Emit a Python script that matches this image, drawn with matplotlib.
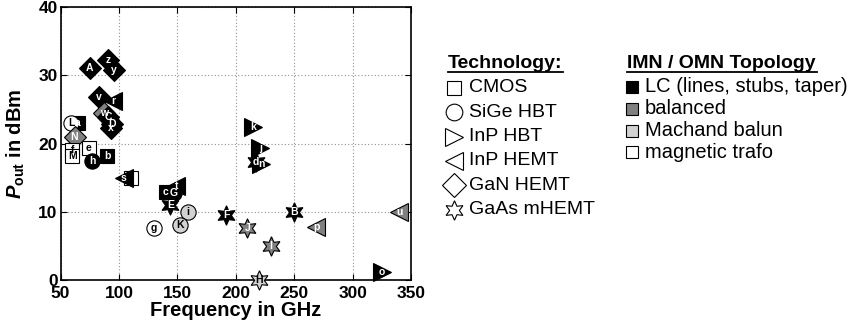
import numpy as np
import matplotlib
matplotlib.use("Agg")
import matplotlib.pyplot as plt
from matplotlib.lines import Line2D

plt.rcParams['font.family'] = ['Liberation Sans', 'DejaVu Sans']
plt.rcParams['mathtext.fontset'] = 'custom'
plt.rcParams['mathtext.rm'] = 'Liberation Sans:bold'
plt.rcParams['mathtext.it'] = 'Liberation Sans:italic:bold'

# data
labels = ['A', 'z', 'y', 'v', 'r', 'w', 'C', 'D', 'x', 'a', 'L', 'N', 'f', 'M', 'e',
          'h', 'b', 'q', 's', 't', 'c', 'G', 'E', 'i', 'K', 'g', 'k', 'j', 'd', 'n',
          'F', 'B', 'J', 'I', 'H', 'p', 'u', 'o']
freq = [75, 91, 96, 83, 95, 87, 91, 94, 93, 65, 59, 62, 60, 60, 74,
        77, 90, 110, 104, 149, 140, 147, 144, 159, 152, 130, 215, 221, 217, 222,
        192, 250, 210, 230, 220, 269, 340, 325]
pout = [31.0, 32.2, 30.8, 26.8, 26.3, 24.4, 23.9, 22.9, 22.2, 23.0, 23.0, 21.0, 19.0, 18.1, 19.3,
        17.4, 18.2, 14.9, 14.9, 13.7, 12.9, 12.8, 11.0, 9.9, 8.0, 7.6, 22.4, 19.3, 17.3, 17.0,
        9.5, 9.9, 7.6, 5.0, 0.0, 7.8, 9.9, 1.1]
tech = ['GaN', 'GaN', 'GaN', 'GaN', 'InPHEMT', 'GaN', 'GaN', 'GaN', 'GaN', 'CMOS', 'SiGe', 'GaN', 'CMOS', 'CMOS', 'CMOS',
        'SiGe', 'CMOS', 'CMOS', 'InPHEMT', 'InPHEMT', 'CMOS', 'SiGe', 'GaAs', 'SiGe', 'SiGe', 'SiGe', 'InPHBT', 'InPHBT', 'GaAs', 'InPHBT',
        'GaAs', 'GaAs', 'GaAs', 'GaAs', 'GaAs', 'InPHEMT', 'InPHEMT', 'InPHBT']
topo = ['LC', 'LC', 'LC', 'LC', 'LC', 'bal', 'LC', 'LC', 'LC', 'LC', 'trafo', 'bal', 'trafo', 'trafo', 'trafo',
        'LC', 'LC', 'trafo', 'LC', 'LC', 'LC', 'LC', 'LC', 'balun', 'balun', 'trafo', 'LC', 'LC', 'LC', 'LC',
        'LC', 'LC', 'bal', 'bal', 'balun', 'bal', 'bal', 'LC']

tech_names = ['CMOS', 'SiGe HBT', 'InP HBT', 'InP HEMT', 'GaN HEMT', 'GaAs mHEMT']
topo_names = ['LC (lines, stubs, taper)', 'balanced', 'Machand balun', 'magnetic trafo']

star6 = (6, 1, 0)
marker_of = {'CMOS': ('s', 10), 'SiGe': ('o', 11), 'InPHBT': ('>', 13.5),
             'InPHEMT': ('<', 13.5), 'GaN': ('D', 11.5), 'GaAs': (star6, 14)}
face_of = {'LC': 'black', 'bal': '#808080', 'balun': '#d2d2d2', 'trafo': 'white'}
text_of = {'LC': 'white', 'bal': 'white', 'balun': 'black', 'trafo': 'black'}

fig = plt.figure(figsize=(8.56, 3.28), dpi=100)
ax = fig.add_axes([60.5 / 856, 48 / 328, 350.5 / 856, 273 / 328])

for lab, f, p, t, tp in zip(labels, freq, pout, tech, topo):
    m, ms = marker_of[t]
    ax.plot(f, p, linestyle='none', marker=m, markersize=ms,
            markerfacecolor=face_of[tp], markeredgecolor='black', markeredgewidth=0.8,
            clip_on=False, zorder=3)
    ax.text(f, p, lab, ha='center', va='center', fontsize=7.5, fontweight='bold',
            color=text_of[tp], zorder=4)

ax.set_xlim(50, 350)
ax.set_ylim(0, 40)
ax.set_xticks([50, 100, 150, 200, 250, 300, 350])
ax.set_yticks([0, 10, 20, 30, 40])
ax.grid(True, linestyle=(0, (1, 2)), color='#909090', linewidth=0.8)
ax.set_axisbelow(True)
ax.tick_params(direction='in', top=True, right=True, labelsize=12.5, length=4, pad=2)
ax.tick_params(axis='x', pad=4)
for lbl in ax.get_xticklabels() + ax.get_yticklabels():
    lbl.set_fontweight('bold')
for sp in ax.spines.values():
    sp.set_linewidth(1.2)
ax.set_xlabel('Frequency in GHz', fontsize=14.5, fontweight='bold', labelpad=0)
ax.set_ylabel(r'$P_\mathrm{out}$ in dBm', fontsize=14.5, fontweight='bold', labelpad=8)


def fx(px):
    return px / 856


def fy(py):
    return 1 - py / 328


# technology legend
fig.text(fx(448), fy(63), 'Technology:', fontsize=14, fontweight='bold', va='center')
fig.add_artist(Line2D([fx(448), fx(563)], [fy(72), fy(72)], color='black', linewidth=1.3))
leg_markers = ['s', 'o', '>', '<', 'D', star6]
leg_sizes = [10, 12, 13, 13, 12, 14]
for k, name in enumerate(tech_names):
    y = 88 + k * 24.3
    fig.add_artist(Line2D([fx(454)], [fy(y)], marker=leg_markers[k], markersize=leg_sizes[k],
                          markerfacecolor='white', markeredgecolor='black', markeredgewidth=0.8))
    fig.text(fx(469), fy(y), name, fontsize=14, va='center')

# topology legend
fig.text(fx(627), fy(63), 'IMN / OMN Topology', fontsize=14, fontweight='bold', va='center')
fig.add_artist(Line2D([fx(627), fx(817)], [fy(72), fy(72)], color='black', linewidth=1.3))
topo_faces = ['black', '#808080', '#d2d2d2', 'white']
for k, name in enumerate(topo_names):
    y = 87 + k * 21.8
    fig.add_artist(Line2D([fx(632)], [fy(y)], marker='s', markersize=8.5,
                          markerfacecolor=topo_faces[k], markeredgecolor='black', markeredgewidth=0.8))
    fig.text(fx(645), fy(y), name, fontsize=14.5, va='center')

fig.savefig('out.png', dpi=100)
